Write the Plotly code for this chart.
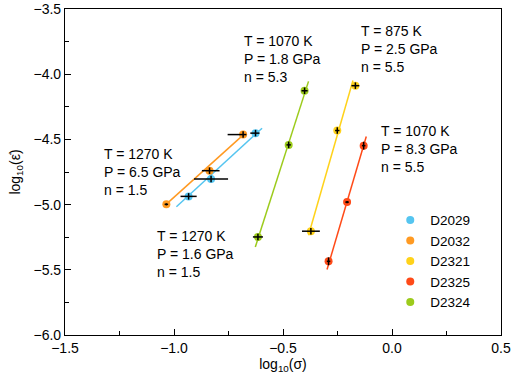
import plotly.graph_objects as go

# ---- data ----
samples = ["D2029", "D2032", "D2321", "D2325", "D2324"]
colors = ["#55C5F0", "#FF9A22", "#FFD21A", "#FF4A18", "#9CCB1C"]

log_sigma = {
    "D2029": [-0.933, -0.830, -0.626],
    "D2032": [-1.035, -0.837, -0.683],
    "D2321": [-0.372, -0.251, -0.168],
    "D2325": [-0.291, -0.206, -0.130],
    "D2324": [-0.615, -0.474, -0.401],
}
log_rate = {
    "D2029": [-4.937, -4.804, -4.452],
    "D2032": [-4.998, -4.740, -4.463],
    "D2321": [-5.204, -4.432, -4.088],
    "D2325": [-5.435, -4.981, -4.548],
    "D2324": [-5.248, -4.542, -4.127],
}
sigma_err_plus = {
    "D2029": [0.037, 0.078, 0.018],
    "D2032": [0.008, 0.046, 0.015],
    "D2321": [0.041, 0.010, 0.018],
    "D2325": [0.008, 0.008, 0.008],
    "D2324": [0.023, 0.010, 0.014],
}
sigma_err_minus = {
    "D2029": [0.037, 0.078, 0.024],
    "D2032": [0.008, 0.035, 0.071],
    "D2321": [0.041, 0.010, 0.018],
    "D2325": [0.008, 0.008, 0.008],
    "D2324": [0.023, 0.010, 0.014],
}
rate_err = {
    "D2029": [0.025, 0.025, 0.025],
    "D2032": [0.008, 0.025, 0.025],
    "D2321": [0.025, 0.025, 0.025],
    "D2325": [0.03, 0.008, 0.03],
    "D2324": [0.025, 0.025, 0.025],
}
# fitted power-law lines (end points)
fit_x = {
    "D2029": [-0.989, -0.596],
    "D2032": [-1.035, -0.672],
    "D2321": [-0.383, -0.179],
    "D2325": [-0.298, -0.118],
    "D2324": [-0.627, -0.383],
}
fit_y = {
    "D2029": [-5.017, -4.414],
    "D2032": [-4.996, -4.450],
    "D2321": [-5.235, -4.048],
    "D2325": [-5.498, -4.478],
    "D2324": [-5.325, -4.055],
}

labels = [
    "T = 1270 K<br>P = 6.5 GPa<br>n = 1.5",
    "T = 1270 K<br>P = 1.6 GPa<br>n = 1.5",
    "T = 1070 K<br>P = 1.8 GPa<br>n = 5.3",
    "T = 875 K<br>P = 2.5 GPa<br>n = 5.5",
    "T = 1070 K<br>P = 8.3 GPa<br>n = 5.5",
]
label_x = [-1.330, -1.087, -0.690, -0.151, -0.061]
label_y = [-4.750, -5.378, -3.883, -3.809, -4.571]

x_ticks = [-1.5, -1.0, -0.5, 0.0, 0.5]
y_ticks = [-6.0, -5.5, -5.0, -4.5, -4.0, -3.5]

FONT = "Liberation Sans, Arial, sans-serif"
FS = 14

fig = go.Figure()
for s, c in zip(samples, colors):
    fig.add_trace(go.Scatter(
        x=fit_x[s], y=fit_y[s], mode="lines",
        line=dict(color=c, width=1.5), showlegend=False, hoverinfo="skip"))
for s, c in zip(samples, colors):
    fig.add_trace(go.Scatter(
        x=log_sigma[s], y=log_rate[s], mode="markers", name=s,
        marker=dict(color=c, size=8)))
# error bars drawn on top of the markers
for s in samples:
    fig.add_trace(go.Scatter(
        x=log_sigma[s], y=log_rate[s], mode="markers", showlegend=False,
        marker=dict(color="rgba(0,0,0,0)", size=1), hoverinfo="skip",
        error_x=dict(type="data", symmetric=False, array=sigma_err_plus[s],
                     arrayminus=sigma_err_minus[s], color="black",
                     thickness=1.5, width=0),
        error_y=dict(type="data", array=rate_err[s], color="black",
                     thickness=1.5, width=0),
    ))

for t, x, y in zip(labels, label_x, label_y):
    fig.add_annotation(x=x, y=y, text=t, showarrow=False, xanchor="left",
                       yanchor="middle", align="left",
                       font=dict(size=FS, color="black", family=FONT))

axis_common = dict(
    showline=True, linecolor="black", linewidth=1.2, mirror=True,
    ticks="inside", ticklen=6, tickwidth=1, tickcolor="black",
    showgrid=False, zeroline=False, automargin=False,
    ticklabeloverflow="allow",
    tickfont=dict(size=FS, color="black", family=FONT),
    minor=dict(ticks="inside", ticklen=4, dtick=0.25, tickcolor="black", showgrid=False),
)
fig.update_xaxes(range=[-1.5, 0.5], tickvals=x_ticks, tickformat=".1f",
                 title=dict(text="log<sub>10</sub>(σ)", standoff=4,
                            font=dict(size=FS, color="black", family=FONT)),
                 **axis_common)
fig.update_yaxes(range=[-6.0, -3.5], tickvals=y_ticks, tickformat=".1f",
                 title=dict(text="log<sub>10</sub>(ε̇)", standoff=9,
                            font=dict(size=FS, color="black", family=FONT)),
                 **axis_common)

fig.update_layout(
    width=512, height=381,
    margin=dict(l=65, r=11, t=9, b=46),
    paper_bgcolor="white", plot_bgcolor="white",
    font=dict(family=FONT, size=FS, color="black"),
    legend=dict(x=0.746, y=0.40, xanchor="left", yanchor="top",
                bgcolor="rgba(0,0,0,0)", font=dict(size=13.5, family=FONT),
                itemwidth=30, tracegroupgap=0),
)
fig.write_html("out.html", config={"displayModeBar": False},
               post_script="document.body.style.margin='0';")
